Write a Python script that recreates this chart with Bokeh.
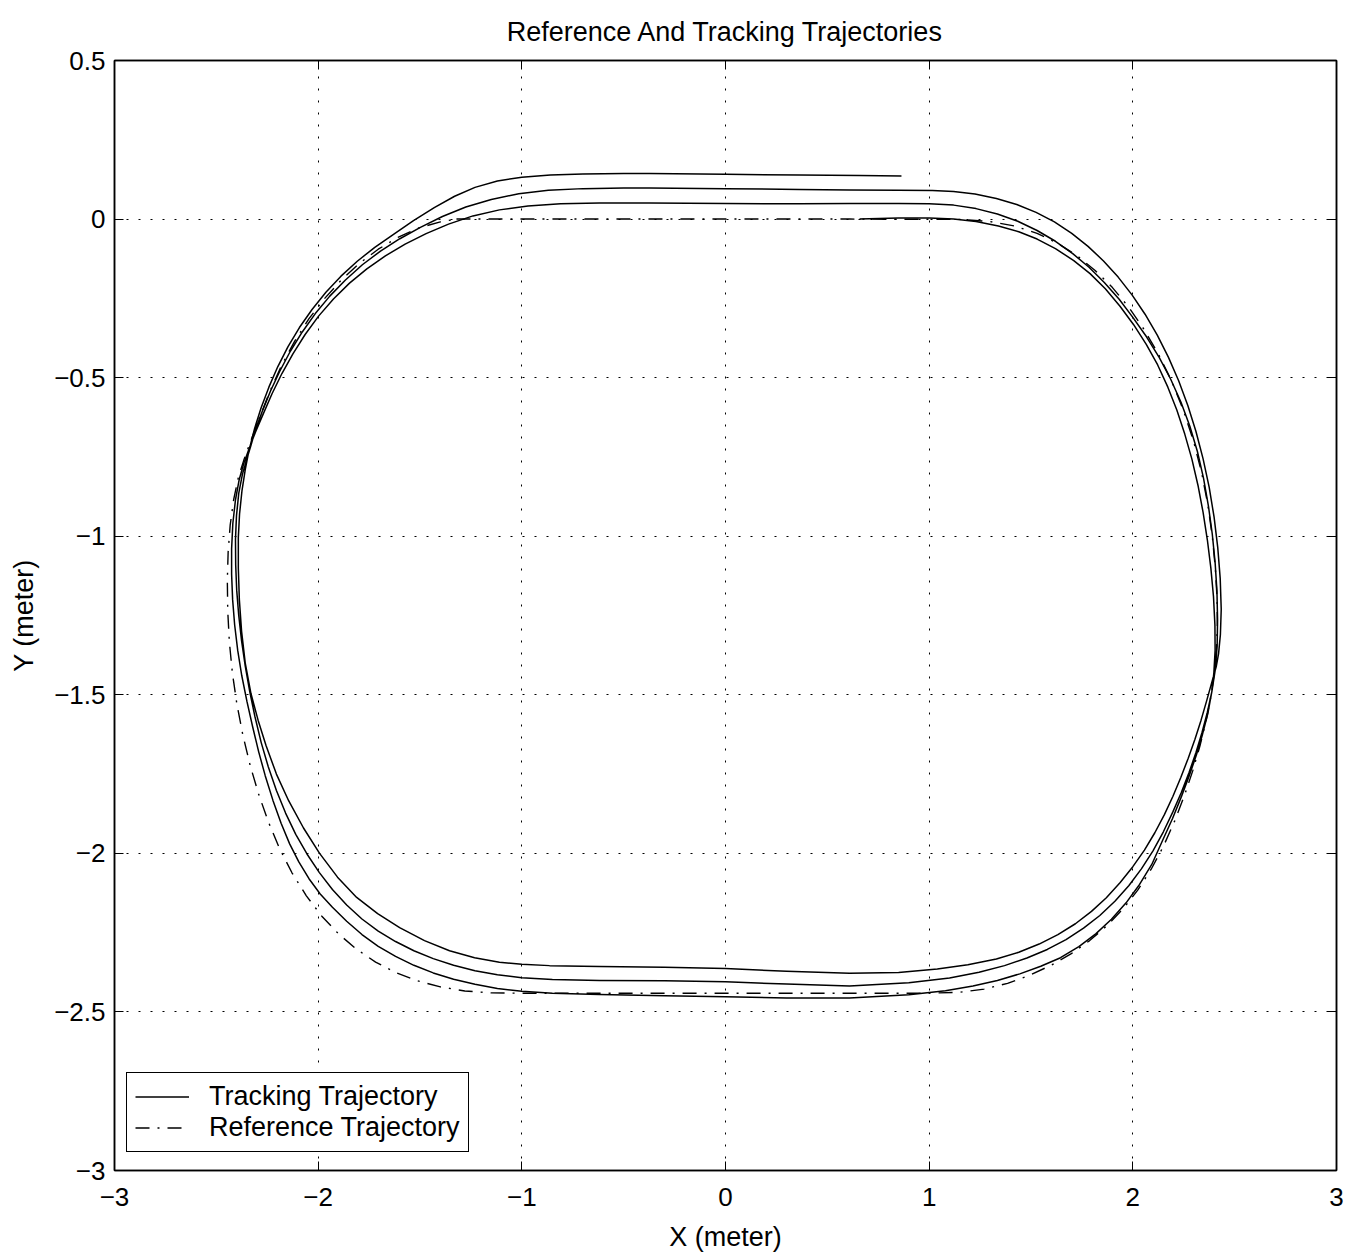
from bokeh.plotting import figure
from bokeh.models import LinearAxis, Legend, LegendItem, FixedTicker, Range1d
from bokeh.embed import file_html
from bokeh.resources import INLINE

# ---------------- data ----------------
ref_x = [-1.321, -0.619, 0.0, 0.609, 1.149, 1.300, 1.420, 1.530, 1.630, 1.725, 1.815, 1.900,
         1.980, 2.055, 2.125, 2.190, 2.248, 2.298, 2.338, 2.368, 2.390, 2.405, 2.414, 2.415,
         2.410, 2.400, 2.385, 2.360, 2.330, 2.294, 2.252, 2.204, 2.150, 2.090, 2.024, 1.952,
         1.873, 1.788, 1.696, 1.598, 1.495, 1.385, 1.270, 1.150, 1.000, 0.609, 0.0, -0.619,
         -1.000, -1.150, -1.280, -1.400, -1.512, -1.618, -1.718, -1.812, -1.900, -1.982, -2.058,
         -2.128, -2.190, -2.245, -2.293, -2.335, -2.370, -2.399, -2.421, -2.436, -2.444, -2.446,
         -2.442, -2.432, -2.415, -2.392, -2.365, -2.337, -2.290, -2.238, -2.180, -2.115, -2.045,
         -1.968, -1.886, -1.798, -1.705, -1.606, -1.502, -1.400, -1.321]
ref_y = [0.0, 0.0, 0.0, 0.0, -0.001, -0.008, -0.022, -0.045, -0.076, -0.115, -0.162, -0.216,
         -0.278, -0.348, -0.425, -0.510, -0.602, -0.700, -0.800, -0.900, -1.000, -1.100, -1.200,
         -1.290, -1.360, -1.430, -1.500, -1.580, -1.660, -1.740, -1.820, -1.900, -1.978, -2.050,
         -2.116, -2.175, -2.228, -2.275, -2.317, -2.353, -2.384, -2.410, -2.428, -2.438, -2.441,
         -2.441, -2.441, -2.441, -2.441, -2.440, -2.434, -2.421, -2.402, -2.376, -2.343, -2.302,
         -2.254, -2.198, -2.134, -2.062, -1.984, -1.900, -1.812, -1.720, -1.626, -1.530, -1.432,
         -1.334, -1.236, -1.140, -1.050, -0.965, -0.885, -0.815, -0.760, -0.710, -0.630, -0.545,
         -0.462, -0.385, -0.314, -0.250, -0.192, -0.140, -0.095, -0.057, -0.027, -0.009, 0.0]

trk_x = [
    # first circuit (starts on the reference, top right)
    0.658, 0.850, 1.000, 1.120, 1.230, 1.340, 1.440, 1.530, 1.620, 1.710, 1.790, 1.865, 1.937,
    2.004, 2.066, 2.122, 2.172, 2.216, 2.255, 2.290, 2.320, 2.345, 2.366, 2.383, 2.396, 2.403,
    2.404, 2.398, 2.388, 2.368, 2.342, 2.312, 2.277, 2.238, 2.195, 2.147, 2.093, 2.033, 1.967,
    1.895, 1.818, 1.735, 1.645, 1.548, 1.445, 1.335, 1.215, 1.080, 0.900, 0.609, 0.300, 0.000,
    -0.300, -0.619, -0.850, -1.000, -1.120, -1.230, -1.335, -1.435, -1.530, -1.620, -1.705,
    -1.785, -1.860, -1.930, -1.990, -2.045, -2.095, -2.140, -2.182, -2.222, -2.260, -2.292,
    -2.322, -2.350, -2.375, -2.395, -2.410, -2.420, -2.425, -2.425, -2.419, -2.406, -2.388,
    -2.365, -2.338, -2.308, -2.268, -2.226, -2.178, -2.124, -2.064, -1.998, -1.925, -1.846,
    -1.761, -1.670, -1.573, -1.470, -1.360, -1.240, -1.110, -0.970, -0.810, -0.619, -0.373,
    0.000, 0.363, 0.609, 0.850,
    # second circuit
    1.000, 1.120, 1.230, 1.335, 1.435, 1.530, 1.620, 1.705, 1.785, 1.860, 1.933, 2.000, 2.068,
    2.130, 2.186, 2.236, 2.280, 2.317, 2.347, 2.371, 2.390, 2.404, 2.413, 2.416, 2.414, 2.405,
    2.388, 2.366, 2.340, 2.310, 2.276, 2.238, 2.196, 2.150, 2.099, 2.042, 1.980, 1.912, 1.838,
    1.758, 1.672, 1.580, 1.480, 1.370, 1.245, 1.100, 0.900, 0.609, 0.300, 0.000, -0.300,
    -0.619, -0.850, -1.000, -1.120, -1.230, -1.335, -1.435, -1.530, -1.620, -1.705, -1.785,
    -1.860, -1.930, -1.995, -2.055, -2.110, -2.160, -2.205, -2.245, -2.280, -2.310, -2.336,
    -2.358, -2.376, -2.390, -2.400, -2.405, -2.406, -2.401, -2.390, -2.372, -2.352, -2.332,
    -2.309, -2.274, -2.234, -2.188, -2.136, -2.078, -2.014, -1.943, -1.866, -1.783, -1.694,
    -1.599, -1.498, -1.390, -1.275, -1.150, -1.015, -0.870, -0.700, -0.500, -0.373, 0.000,
    0.363, 0.609, 0.850,
    # third circuit
    1.016, 1.120, 1.225, 1.330, 1.430, 1.525, 1.615, 1.700, 1.780, 1.856, 1.928, 1.996, 2.060,
    2.120, 2.175, 2.225, 2.270, 2.310, 2.345, 2.375, 2.399, 2.417, 2.429, 2.434, 2.430, 2.421,
    2.410, 2.388, 2.362, 2.335, 2.305, 2.272, 2.236, 2.197, 2.155, 2.108, 2.057, 2.000, 1.938,
    1.870, 1.797, 1.718, 1.632, 1.540, 1.440, 1.330, 1.190, 1.040, 0.850, 0.609, 0.300, 0.000,
    -0.300, -0.619, -0.864, -1.000, -1.110, -1.232, -1.355, -1.478, -1.600, -1.708, -1.811,
    -1.905, -1.993, -2.072, -2.145, -2.205, -2.256, -2.295, -2.330, -2.358, -2.376, -2.387,
    -2.392, -2.392, -2.386, -2.374, -2.358, -2.340, -2.312, -2.280, -2.242, -2.198, -2.148,
    -2.092, -2.030, -1.962, -1.888, -1.808, -1.722, -1.630, -1.532, -1.430, -1.330, -1.230,
    -1.120, -1.000, -0.860, -0.700, -0.500, -0.373, 0.000, 0.363, 0.658, 0.864]
trk_y = [
    # first circuit
    0.000, 0.003, 0.003, 0.000, -0.008, -0.022, -0.040, -0.063, -0.093, -0.131, -0.172, -0.220,
    -0.275, -0.333, -0.395, -0.460, -0.530, -0.602, -0.678, -0.757, -0.840, -0.925, -1.012,
    -1.100, -1.190, -1.280, -1.360, -1.430, -1.490, -1.560, -1.625, -1.690, -1.755, -1.822,
    -1.890, -1.958, -2.035, -2.098, -2.156, -2.208, -2.254, -2.294, -2.329, -2.356, -2.380,
    -2.401, -2.418, -2.433, -2.446, -2.456, -2.456, -2.452, -2.449, -2.445, -2.441, -2.435,
    -2.426, -2.413, -2.397, -2.377, -2.353, -2.325, -2.293, -2.256, -2.214, -2.170, -2.128,
    -2.080, -2.027, -1.970, -1.905, -1.833, -1.755, -1.680, -1.600, -1.520, -1.440, -1.360,
    -1.280, -1.200, -1.120, -1.040, -0.960, -0.885, -0.822, -0.770, -0.722, -0.672, -0.612,
    -0.550, -0.487, -0.425, -0.364, -0.306, -0.252, -0.202, -0.157, -0.116, -0.079, -0.046,
    -0.016, 0.010, 0.029, 0.041, 0.048, 0.051, 0.051, 0.049, 0.048, 0.049, 0.049,
    # second circuit
    0.048, 0.044, 0.033, 0.016, -0.007, -0.036, -0.070, -0.109, -0.152, -0.200, -0.253, -0.310,
    -0.372, -0.437, -0.505, -0.577, -0.653, -0.733, -0.817, -0.904, -0.993, -1.083, -1.173,
    -1.263, -1.345, -1.420, -1.490, -1.555, -1.618, -1.682, -1.745, -1.808, -1.870, -1.932,
    -1.992, -2.049, -2.102, -2.151, -2.196, -2.236, -2.272, -2.303, -2.330, -2.354, -2.375,
    -2.393, -2.408, -2.418, -2.412, -2.405, -2.402, -2.401, -2.398, -2.392, -2.383, -2.370,
    -2.353, -2.332, -2.307, -2.278, -2.245, -2.207, -2.163, -2.114, -2.060, -2.002, -1.940,
    -1.873, -1.802, -1.727, -1.650, -1.570, -1.490, -1.410, -1.330, -1.250, -1.170, -1.090,
    -1.010, -0.935, -0.865, -0.805, -0.760, -0.718, -0.667, -0.605, -0.542, -0.479, -0.416,
    -0.356, -0.298, -0.243, -0.192, -0.144, -0.101, -0.062, -0.026, 0.008, 0.038, 0.062, 0.080,
    0.091, 0.096, 0.098, 0.098, 0.096, 0.093, 0.092, 0.091,
    # third circuit
    0.090, 0.087, 0.079, 0.065, 0.046, 0.021, -0.009, -0.045, -0.086, -0.132, -0.183, -0.239,
    -0.300, -0.366, -0.436, -0.510, -0.588, -0.670, -0.756, -0.846, -0.940, -1.036, -1.133,
    -1.230, -1.310, -1.370, -1.410, -1.460, -1.520, -1.580, -1.640, -1.700, -1.760, -1.820,
    -1.878, -1.935, -1.990, -2.042, -2.092, -2.140, -2.183, -2.222, -2.256, -2.286, -2.312,
    -2.333, -2.351, -2.365, -2.376, -2.378, -2.372, -2.363, -2.359, -2.357, -2.354, -2.350,
    -2.343, -2.329, -2.307, -2.275, -2.234, -2.190, -2.139, -2.075, -2.000, -1.920, -1.834,
    -1.750, -1.660, -1.580, -1.496, -1.400, -1.300, -1.200, -1.100, -1.004, -0.930, -0.856,
    -0.790, -0.730, -0.660, -0.595, -0.530, -0.465, -0.402, -0.342, -0.285, -0.231, -0.180,
    -0.133, -0.089, -0.048, -0.005, 0.036, 0.072, 0.100, 0.120, 0.132, 0.139, 0.142, 0.144,
    0.144, 0.141, 0.139, 0.137, 0.136]

x_ticks = [-3, -2, -1, 0, 1, 2, 3]
y_ticks = [-3, -2.5, -2, -1.5, -1, -0.5, 0, 0.5]
x_labels = {-3: "\u22123", -2: "\u22122", -1: "\u22121", 0: "0", 1: "1", 2: "2", 3: "3"}
y_labels = {-3: "\u22123", -2.5: "\u22122.5", -2: "\u22122", -1.5: "\u22121.5", -1: "\u22121",
            -0.5: "\u22120.5", 0: "0", 0.5: "0.5"}

FONT = "Liberation Sans"
FS_TICK = "26px"
FS_TEXT = "27px"

p = figure(frame_width=1222, frame_height=1110,
           x_range=Range1d(-3, 3), y_range=Range1d(-3, 0.5),
           output_backend="svg", toolbar_location=None,
           min_border_left=114, min_border_right=20, min_border_top=60, min_border_bottom=76,
           x_axis_label="X (meter)", y_axis_label="Y (meter)")

p.title.text = "Reference And Tracking Trajectories"
p.title.align = "center"
p.title.text_font = FONT
p.title.text_font_size = FS_TEXT
p.title.text_font_style = "normal"
p.title.text_color = "black"
p.title.standoff = 28

p.background_fill_color = "white"
p.border_fill_color = "white"
p.outline_line_color = "black"
p.outline_line_width = 1.5
p.outline_line_alpha = 1.0

for ax, ticks, labels in ((p.xaxis[0], x_ticks, x_labels), (p.yaxis[0], y_ticks, y_labels)):
    ax.ticker = FixedTicker(ticks=ticks)
    ax.major_label_overrides = labels
    ax.major_tick_in = 9
    ax.major_tick_out = 0
    ax.minor_tick_line_color = None
    ax.major_tick_line_color = "black"
    ax.axis_line_color = "black"
    ax.axis_line_width = 1.5
    ax.major_label_text_font = FONT
    ax.major_label_text_font_size = FS_TICK
    ax.major_label_text_color = "black"
    ax.axis_label_text_font = FONT
    ax.axis_label_text_font_size = FS_TEXT
    ax.axis_label_text_font_style = "normal"
    ax.axis_label_text_color = "black"

p.xaxis[0].major_label_standoff = 17
p.xaxis[0].axis_label_standoff = 13
p.yaxis[0].major_label_standoff = 9
p.yaxis[0].axis_label_standoff = 12

for loc, ticks in (("above", x_ticks), ("right", y_ticks)):
    ax = LinearAxis(ticker=FixedTicker(ticks=ticks))
    ax.major_label_text_color = None
    ax.major_label_text_font_size = "1px"
    ax.major_tick_in = 9
    ax.major_tick_out = 0
    ax.minor_tick_line_color = None
    ax.axis_line_width = 1.5
    ax.major_label_standoff = 0
    p.add_layout(ax, loc)

for g, ticks in ((p.xgrid[0], x_ticks), (p.ygrid[0], y_ticks)):
    g.ticker = FixedTicker(ticks=ticks)
    g.grid_line_color = "black"
    g.grid_line_alpha = 1.0
    g.grid_line_width = 1
    g.grid_line_dash = "2 10"

r_ref = p.line(ref_x, ref_y, line_color="black", line_width=1.4, line_dash="14 8 2 8",
               line_join="round")
r_trk = p.line(trk_x, trk_y, line_color="black", line_width=1.5, line_join="round")

legend = Legend(items=[LegendItem(label="Tracking Trajectory", renderers=[r_trk]),
                       LegendItem(label="Reference Trajectory", renderers=[r_ref])],
                location=(12, 18))
legend.label_text_font = FONT
legend.label_text_font_size = FS_TEXT
legend.label_text_color = "black"
legend.border_line_color = "black"
legend.border_line_width = 1.2
legend.border_line_alpha = 1.0
legend.background_fill_color = "white"
legend.background_fill_alpha = 1.0
legend.glyph_width = 54
legend.glyph_height = 27
legend.label_height = 27
legend.label_standoff = 20
legend.spacing = 0
legend.padding = 8
legend.margin = 0
p.add_layout(legend, "center")

open("out.html", "w").write(file_html(p, INLINE))
